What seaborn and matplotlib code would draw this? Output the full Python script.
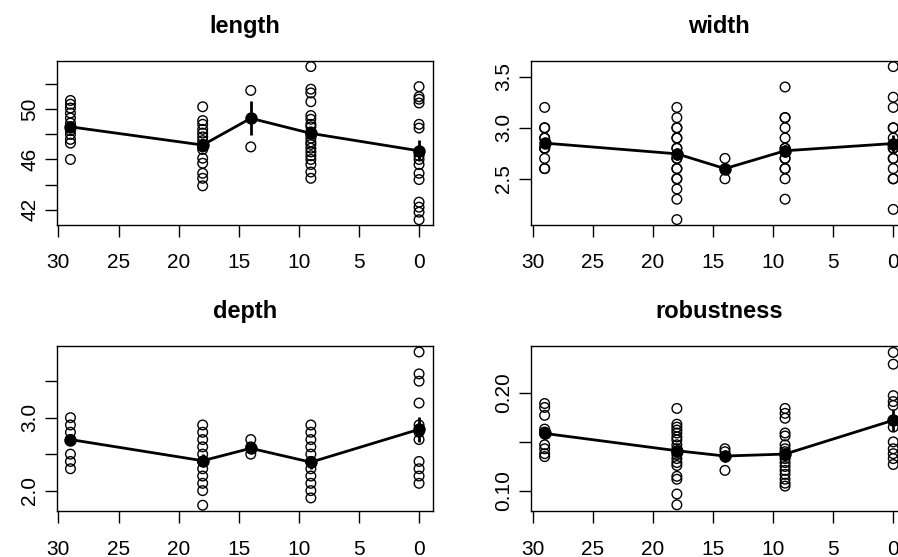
import numpy as np
import pandas as pd
import matplotlib
matplotlib.use("Agg")
import matplotlib.pyplot as plt
import seaborn as sns

# ages (x positions) shared by all four traits
AGES = [29, 18, 14, 9, 0]

length_vals = {
    29: [50.7, 50.4, 50.1, 49.7, 49.3, 48.9, 48.6, 48.3, 48.0, 47.6, 47.3, 46.0],
    18: [50.2, 49.1, 48.8, 48.4, 48.1, 47.8, 47.5, 47.2, 47.0, 46.8, 46.1, 45.7, 44.9, 44.5, 43.9],
    14: [51.5, 47.0],
    9: [53.4, 51.6, 51.3, 50.6, 49.5, 49.2, 48.8, 48.6, 48.2, 48.0, 47.7, 47.4, 47.2, 46.9,
        46.6, 46.3, 46.0, 45.6, 45.0, 44.5],
    0: [51.8, 51.0, 50.8, 50.5, 48.8, 48.5, 46.6, 46.3, 46.0, 45.6, 44.9, 44.4, 42.6, 42.2, 41.8, 41.2],
}
width_vals = {
    29: [3.2, 3.0, 3.0, 2.9, 2.9, 2.8, 2.8, 2.8, 2.7, 2.6, 2.6],
    18: [3.2, 3.1, 3.0, 3.0, 2.9, 2.9, 2.8, 2.8, 2.7, 2.7, 2.6, 2.6, 2.5, 2.5, 2.4, 2.3, 2.1],
    14: [2.7, 2.6, 2.5],
    9: [3.4, 3.1, 3.1, 3.0, 2.9, 2.8, 2.8, 2.7, 2.7, 2.6, 2.6, 2.5, 2.3],
    0: [3.6, 3.3, 3.2, 3.0, 3.0, 2.9, 2.8, 2.8, 2.7, 2.7, 2.6, 2.5, 2.5, 2.2],
}
depth_vals = {
    29: [3.0, 2.9, 2.8, 2.7, 2.7, 2.5, 2.4, 2.3],
    18: [2.9, 2.8, 2.7, 2.6, 2.5, 2.4, 2.4, 2.3, 2.2, 2.1, 2.0, 1.8],
    14: [2.7, 2.6, 2.5],
    9: [2.9, 2.8, 2.7, 2.6, 2.5, 2.4, 2.4, 2.3, 2.2, 2.1, 2.0, 1.9],
    0: [3.9, 3.6, 3.5, 3.2, 2.9, 2.8, 2.7, 2.4, 2.3, 2.2, 2.1],
}
robust_vals = {
    29: [0.189, 0.185, 0.177, 0.163, 0.160, 0.158, 0.147, 0.143, 0.138, 0.135],
    18: [0.184, 0.168, 0.165, 0.162, 0.159, 0.155, 0.152, 0.147, 0.143, 0.140, 0.137,
         0.133, 0.129, 0.126, 0.115, 0.112, 0.097, 0.086],
    14: [0.143, 0.140, 0.121],
    9: [0.184, 0.179, 0.174, 0.159, 0.156, 0.147, 0.143, 0.140, 0.136, 0.133, 0.129,
        0.125, 0.121, 0.117, 0.112, 0.108, 0.105],
    0: [0.241, 0.229, 0.197, 0.191, 0.187, 0.172, 0.165, 0.150, 0.143, 0.138, 0.133, 0.127],
}

# group means and error half-widths as drawn
length_mean = [48.6, 47.15, 49.28, 48.08, 46.69]
length_err = [0.35, 0.45, 1.35, 0.5, 0.85]
width_mean = [2.85, 2.745, 2.6, 2.775, 2.846]
width_err = [0.05, 0.06, 0.05, 0.06, 0.08]
depth_mean = [2.70, 2.41, 2.58, 2.39, 2.84]
depth_err = [0.08, 0.09, 0.05, 0.09, 0.17]
robust_mean = [0.1586, 0.141, 0.1356, 0.1376, 0.172]
robust_err = [0.006, 0.006, 0.006, 0.006, 0.011]

TITLES = ["length", "width", "depth", "robustness"]
YTICKS = [[42, 44, 46, 48, 50, 52], [2.5, 3.0, 3.5], [2.0, 2.5, 3.0, 3.5], [0.10, 0.15, 0.20]]
YLABELS = [["42", "", "46", "", "50", ""], ["2.5", "3.0", "3.5"],
           ["2.0", "", "3.0", ""], ["0.10", "", "0.20"]]
YLIMS = [(40.82, 53.86), (2.052, 3.657), (1.721, 3.986), (0.0797, 0.2478)]
XTICKS = [30, 25, 20, 15, 10, 5, 0]

sns.set_style("white")
plt.rcParams['font.family'] = ['Liberation Sans', 'DejaVu Sans']

fig = plt.figure(figsize=(8.98, 5.57), dpi=100)
W, H = 898, 557
# axes boxes in pixels: left, top, right, bottom
boxes = [(56.5, 60.8, 433, 224.5), (530.7, 60.8, 907.2, 224.5),
         (56.5, 345.7, 433, 511), (530.7, 345.7, 907.2, 511)]

panels = [(length_vals, length_mean, length_err), (width_vals, width_mean, width_err),
          (depth_vals, depth_mean, depth_err), (robust_vals, robust_mean, robust_err)]

for i, (vals, means, errs) in enumerate(panels):
    l, t, r, b = boxes[i]
    ax = fig.add_axes([l / W, 1 - b / H, (r - l) / W, (b - t) / H])
    df = pd.DataFrame([(a, v) for a in AGES for v in vals[a]], columns=["age", "value"])
    sns.scatterplot(data=df, x="age", y="value", ax=ax, marker="o", s=48,
                    facecolors="none", edgecolor="black", linewidth=1.0, zorder=2)
    ax.vlines(AGES, np.array(means) - np.array(errs), np.array(means) + np.array(errs),
              color="black", lw=2, zorder=3)
    sns.lineplot(x=AGES, y=means, ax=ax, sort=False, color="black", lw=2,
                 marker="o", markersize=9, markeredgewidth=0, zorder=4)

    ax.set_xlim(30.16, -1.16)
    ax.set_ylim(*YLIMS[i])
    ax.set_xticks(XTICKS)
    ax.set_xticklabels([str(x) for x in XTICKS])
    ax.set_yticks(YTICKS[i])
    ax.set_yticklabels(YLABELS[i])
    ax.set_xlabel("")
    ax.set_ylabel("")
    ax.set_title(TITLES[i], fontsize=17, fontweight="bold", pad=20, color="black")
    for s in ax.spines.values():
        s.set_color("black")
        s.set_linewidth(1.0)
    ax.tick_params(axis="both", direction="out", length=8.6, width=1.0,
                   color="black", labelsize=15, labelcolor="black",
                   bottom=True, left=True)
    ax.tick_params(axis="x", pad=12)
    ax.tick_params(axis="y", pad=4, labelrotation=90)
    for lab in ax.get_yticklabels():
        lab.set_va("center")

fig.savefig("out.png", dpi=100)
